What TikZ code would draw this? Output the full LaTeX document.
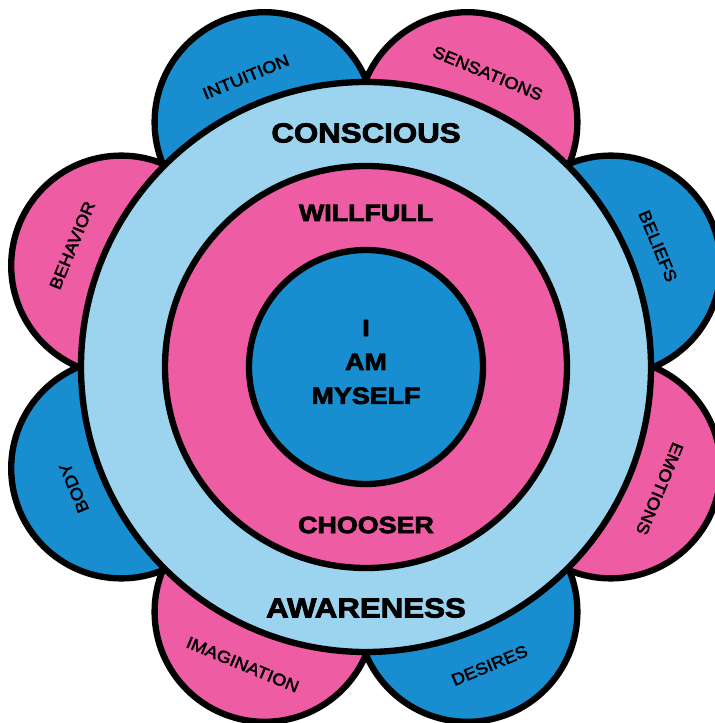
\documentclass[tikz,border=0pt]{standalone}
\usepackage{fontspec}
\newfontfamily\ringfont[FakeStretch=1.14, FakeBold=3]{Liberation Sans Bold}
\newfontfamily\petalfont[FakeStretch=1.1, FakeBold=2.5]{Liberation Sans}
\definecolor{petalblue}{RGB}{24,142,208}
\definecolor{petalpink}{RGB}{238,92,164}
\definecolor{ringsky}{RGB}{156,212,240}

\begin{document}
\begin{tikzpicture}[
    x=0.02cm, y=0.02cm,
    % Every disc: filled, thick black outline
    disc/.style={draw=black, line width=3.6pt},
    % Big labels on the outer ring
    ringlabel/.style={font=\ringfont\fontsize{15.6}{18}\selectfont, inner sep=0pt},
    % Labels on the pink ring and the core
    corelabel/.style={font=\ringfont\fontsize{13.4}{19.3}\selectfont,
        inner sep=0pt, align=center},
    % Petal labels, set along the rim
    petallabel/.style={font=\petalfont\fontsize{9.5}{11}\selectfont, inner sep=0pt},
]
\useasboundingbox (-366,-356) rectangle (349,367);

% ============================================================
% PETALS: eight discs round the rim, blue and pink in turn
% ============================================================
\filldraw[disc, fill=petalblue] (112.5:265) circle (110);
\filldraw[disc, fill=petalpink] (67.5:265) circle (110);
\filldraw[disc, fill=petalblue] (22.5:265) circle (110);
\filldraw[disc, fill=petalpink] (-22.5:265) circle (110);
\filldraw[disc, fill=petalblue] (-67.5:265) circle (110);
\filldraw[disc, fill=petalpink] (-112.5:265) circle (110);
\filldraw[disc, fill=petalblue] (-157.5:265) circle (110);
\filldraw[disc, fill=petalpink] (157.5:265) circle (110);

\node[petallabel, rotate=22.5] (intuition) at (112.5:314) {INTUITION};
\node[petallabel, rotate=-22.5] (sensations) at (67.5:318) {SENSATIONS};
\node[petallabel, rotate=-67.5] (beliefs) at (22.5:316) {BELIEFS};
\node[petallabel, rotate=-112.5] (emotions) at (-22.5:318) {EMOTIONS};
\node[petallabel, rotate=22.5] (desires) at (-67.5:323) {DESIRES};
\node[petallabel, rotate=-22.5] (imagination) at (-112.5:322) {IMAGINATION};
\node[petallabel, rotate=112.5] (body) at (-157.5:316) {BODY};
\node[petallabel, rotate=67.5] (behavior) at (157.5:318) {BEHAVIOR};

% ============================================================
% RINGS: light blue, pink, blue core
% ============================================================
\filldraw[disc, fill=ringsky] (0,0) circle (285);
\filldraw[disc, fill=petalpink] (0,0) circle (201);
\filldraw[disc, fill=petalblue] (0,0) circle (117);

\node[ringlabel] (conscious) at (0,234) {CONSCIOUS};
\node[ringlabel] (awareness) at (0,-241) {AWARENESS};

\node[corelabel] (willfull) at (0,154) {WILLFULL};
\node[corelabel] (chooser) at (0,-158) {CHOOSER};

\node[corelabel] (myself) at (0,5) {I\\AM\\MYSELF};

\end{tikzpicture}
\end{document}
